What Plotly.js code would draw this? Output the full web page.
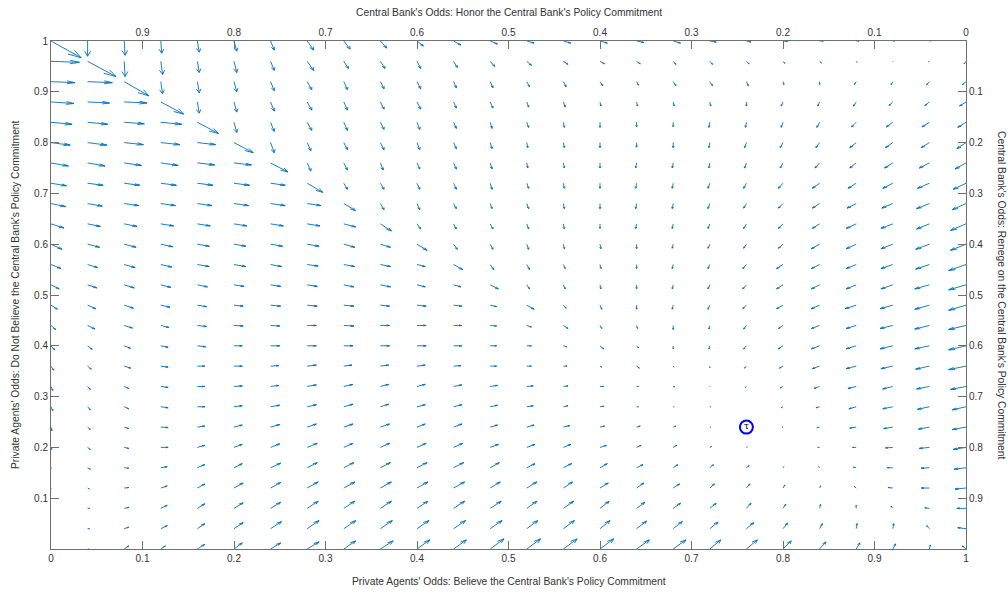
<!DOCTYPE html>
<html><head><meta charset="utf-8">
<script src="https://cdn.plot.ly/plotly-3.0.1.min.js"></script>
<style>html,body{margin:0;padding:0;background:#fff}#chart{width:1008px;height:593px}</style>
</head><body><div id="chart"></div>
<script>
// Grid of the vector field (x = private agents believe, y = do not believe)
const gridX = [0,0.04,0.08,0.12,0.16,0.2,0.24,0.28,0.32,0.36,0.4,0.44,0.48,0.52,0.56,0.6,0.64,0.68,0.72,0.76,0.8,0.84,0.88,0.92,0.96,1];
const gridY = [1,0.96,0.92,0.88,0.84,0.8,0.76,0.72,0.68,0.64,0.6,0.56,0.52,0.48,0.44,0.4,0.36,0.32,0.28,0.24,0.2,0.16,0.12,0.08,0.04,0];
// Drawn vector components, in thousandths of an axis unit; one row per gridY value
const VALUE_UNIT = 0.001;
const U = [
 [33,0,1,1,2,3,4,7,7,7,7,8,8,8,8,8,8,8,7,5,5,4,3,2,1,0],
 [31,31,1,2,2,3,4,7,5,5,4,4,5,5,5,5,4,3,3,3,2,2,1,0,-1,-2],
 [26,27,27,2,2,3,4,5,4,4,4,3,3,3,3,3,2,3,3,2,1,0,-2,-2,-3,-4],
 [25,24,25,25,2,3,4,5,4,4,4,3,3,2,2,1,1,1,1,0,-2,-2,-3,-4,-5,-7],
 [23,22,22,23,23,3,4,5,4,4,3,3,2,2,1,0,0,0,-1,-1,-2,-3,-5,-7,-8,-9],
 [21,21,21,21,20,21,4,4,4,4,3,3,2,1,1,0,0,0,-1,-2,-3,-4,-7,-8,-9,-10],
 [19,19,19,19,19,19,19,4,4,3,3,3,2,1,1,0,-1,-1,-1,-2,-3,-5,-7,-9,-11,-12],
 [17,17,17,17,17,17,16,17,4,4,3,3,2,2,1,0,-1,-1,-2,-3,-5,-8,-9,-11,-13,-14],
 [16,16,16,16,16,16,16,15,13,4,3,3,2,2,1,0,-1,-1,-2,-3,-5,-8,-10,-12,-14,-15],
 [14,14,14,14,14,14,14,14,13,12,4,3,3,2,1,0,-1,-1,-2,-3,-5,-8,-11,-13,-14,-17],
 [12,13,13,13,13,13,13,13,12,11,11,4,3,2,1,1,0,-1,-2,-3,-5,-9,-11,-13,-15,-17],
 [11,11,12,12,13,13,12,12,12,11,9,10,4,3,2,1,0,-1,-2,-4,-7,-9,-11,-13,-15,-19],
 [9,10,11,11,11,11,11,11,11,11,9,8,9,3,2,1,0,-1,-2,-4,-7,-9,-11,-13,-16,-19],
 [7,9,10,10,10,10,11,11,11,10,10,9,7,8,3,2,0,-1,-2,-4,-7,-9,-12,-14,-16,-19],
 [5,8,9,9,10,10,10,10,11,10,10,9,7,5,5,2,1,0,-1,-3,-5,-9,-11,-14,-16,-19],
 [4,5,7,8,9,9,10,10,10,10,10,9,7,5,4,4,2,0,-1,-3,-5,-9,-11,-14,-16,-19],
 [3,4,7,8,8,9,9,10,9,9,9,8,7,5,4,2,3,1,0,-2,-4,-8,-11,-13,-15,-19],
 [2,3,5,8,8,9,9,10,10,9,9,9,8,7,5,4,2,2,0,-1,-3,-6,-9,-11,-14,-17],
 [2,3,5,8,8,9,10,10,10,9,9,9,8,7,5,4,2,1,1,0,-2,-4,-8,-11,-13,-15],
 [1,3,5,8,8,9,10,10,10,10,9,9,8,8,7,5,4,3,1,0,-1,-3,-7,-10,-12,-15],
 [1,3,5,8,8,9,10,11,10,10,10,10,9,9,8,7,5,4,2,1,0,-2,-4,-8,-11,-14],
 [0,3,5,7,8,9,11,11,11,11,11,11,10,9,9,8,7,5,4,3,1,-1,-3,-6,-9,-13],
 [0,2,5,7,8,10,11,12,12,12,12,12,11,11,10,9,8,7,5,4,2,1,-2,-5,-9,-12],
 [0,2,5,7,8,10,11,12,12,12,12,12,12,11,11,10,9,8,7,5,3,1,0,-2,-5,-10],
 [0,2,5,7,8,10,12,13,13,13,13,13,13,12,12,11,11,10,9,8,5,3,1,1,-3,-9],
 [0,1,5,5,8,9,11,13,13,14,14,14,15,15,15,15,14,14,12,12,9,7,4,3,1,-4]
];
const V = [
 [-33,-30,-28,-24,-22,-20,-18,-18,-16,-14,-10,-8,-6,-4,-4,-4,-3,-4,-2,-2,-1,0,0,0,0,0],
 [-2,-30,-30,-26,-22,-22,-18,-18,-14,-14,-14,-12,-10,-8,-6,-5,-5,-6,-6,-5,-4,-3,-2,-1,-1,-5],
 [-2,-2,-28,-24,-22,-20,-18,-16,-16,-14,-14,-12,-12,-10,-10,-8,-7,-8,-8,-8,-6,-6,-6,-6,-6,-6],
 [-3,-2,-2,-24,-22,-20,-18,-16,-16,-14,-14,-12,-12,-10,-10,-8,-8,-8,-8,-8,-8,-8,-8,-7,-7,-8],
 [-4,-4,-3,-4,-22,-20,-18,-16,-16,-14,-14,-12,-12,-10,-10,-10,-9,-9,-10,-10,-10,-10,-9,-9,-9,-10],
 [-5,-5,-4,-4,-4,-20,-20,-16,-14,-14,-14,-12,-12,-10,-10,-10,-9,-10,-10,-10,-10,-10,-10,-10,-10,-12],
 [-6,-6,-5,-5,-4,-4,-18,-16,-14,-14,-12,-12,-12,-10,-10,-10,-10,-10,-10,-10,-10,-10,-10,-10,-10,-12],
 [-5,-4,-4,-4,-4,-4,-4,-18,-12,-12,-12,-12,-12,-10,-10,-10,-10,-10,-10,-10,-10,-10,-10,-10,-10,-12],
 [-6,-5,-4,-4,-4,-4,-4,-4,-14,-12,-12,-10,-10,-10,-10,-10,-10,-10,-10,-9,-9,-9,-9,-9,-10,-12],
 [-8,-5,-5,-4,-4,-4,-4,-4,-6,-14,-10,-10,-10,-10,-10,-9,-9,-9,-9,-9,-9,-9,-9,-9,-10,-13],
 [-10,-6,-6,-5,-4,-4,-4,-4,-6,-6,-12,-10,-10,-10,-9,-9,-9,-8,-8,-8,-8,-9,-9,-9,-10,-12],
 [-8,-6,-6,-5,-4,-4,-4,-3,-4,-4,-4,-10,-10,-10,-8,-8,-8,-8,-8,-8,-8,-8,-8,-8,-9,-12],
 [-8,-6,-6,-5,-4,-3,-3,-3,-4,-4,-4,-4,-8,-8,-8,-8,-8,-8,-8,-8,-8,-8,-8,-8,-8,-10],
 [-8,-7,-6,-4,-3,-2,-2,-2,-2,-2,-2,-2,-3,-8,-6,-8,-8,-8,-8,-7,-7,-7,-7,-7,-8,-10],
 [-8,-7,-5,-4,-2,-1,-1,0,-1,0,0,0,-1,-3,-6,-6,-6,-8,-7,-7,-6,-6,-6,-6,-7,-8],
 [-8,-7,-5,-3,-2,0,0,0,0,0,0,0,0,0,-2,-6,-4,-6,-6,-6,-6,-6,-6,-6,-6,-8],
 [-8,-6,-4,-2,0,0,1,2,2,2,2,1,0,0,0,-2,-4,-2,-3,-4,-4,-5,-5,-5,-6,-7],
 [-8,-6,-4,-2,0,1,2,3,4,4,4,3,2,1,1,0,0,-1,-1,-2,-3,-4,-4,-5,-5,-6],
 [-8,-6,-4,-2,0,2,3,4,5,5,4,4,3,2,2,1,0,0,0,0,-2,-2,-4,-4,-5,-6],
 [-7,-5,-3,-1,2,4,5,6,6,6,6,6,4,4,3,2,2,2,0,0,0,-1,-2,-3,-4,-5],
 [-4,-4,-2,0,4,6,7,8,8,8,8,8,6,6,6,4,4,4,2,1,0,0,0,-1,-2,-4],
 [-2,-3,-1,2,6,8,9,10,10,10,10,10,10,8,8,8,6,6,6,4,2,2,1,0,-1,-3],
 [-1,-2,1,4,8,10,11,12,12,12,12,12,12,12,12,10,10,8,8,8,6,4,3,1,0,-2],
 [0,0,2,6,9,11,12,14,14,14,14,14,14,14,14,14,12,10,10,10,8,8,6,4,1,0],
 [0,0,3,6,10,12,14,16,16,16,16,16,16,16,16,16,15,14,13,12,11,10,10,10,6,2],
 [0,0,6,6,9,12,12,14,16,16,18,18,20,20,20,20,18,18,18,18,16,14,12,10,8,6]
];
// Marked equilibrium
const eqX = [0.76];
const eqY = [0.24];
const eqLabel = ['τ'];
// Axis ticks
const bottomTickVals = [0,0.1,0.2,0.3,0.4,0.5,0.6,0.7,0.8,0.9,1];
const bottomTickText = ['0','0.1','0.2','0.3','0.4','0.5','0.6','0.7','0.8','0.9','1'];
const leftTickVals = [0.1,0.2,0.3,0.4,0.5,0.6,0.7,0.8,0.9,1];
const leftTickText = ['0.1','0.2','0.3','0.4','0.5','0.6','0.7','0.8','0.9','1'];
const topTickVals = [0,0.1,0.2,0.3,0.4,0.5,0.6,0.7,0.8,0.9];
const topTickText = ['0','0.1','0.2','0.3','0.4','0.5','0.6','0.7','0.8','0.9'];
const rightTickVals = [0.1,0.2,0.3,0.4,0.5,0.6,0.7,0.8,0.9];
const rightTickText = ['0.1','0.2','0.3','0.4','0.5','0.6','0.7','0.8','0.9'];
const titleBottom = "Private Agents' Odds: Believe the Central Bank's Policy Commitment";
const titleLeft = "Private Agents' Odds: Do Not Believe the Central Bank's Policy Commitment";
const titleTop = "Central Bank's Odds: Honor the Central Bank's Policy Commitment";
const titleRight = "Central Bank's Odds: Renege on the Central Bank's Policy Commitment";

// Build quiver shafts and heads (MATLAB-style heads, alpha = beta = 0.33)
const HEAD_A = 0.33, HEAD_B = 0.33;
const sx = [], sy = [];
for (let r = 0; r < gridY.length; r++) {
  for (let c = 0; c < gridX.length; c++) {
    const x = gridX[c], y = gridY[r];
    const u = U[r][c] * VALUE_UNIT, v = V[r][c] * VALUE_UNIT;
    if (u === 0 && v === 0) continue;
    const tx = x + u, ty = y + v;
    sx.push(x, tx, null); sy.push(y, ty, null);
    sx.push(tx - HEAD_A * (u + HEAD_B * v), tx, tx - HEAD_A * (u - HEAD_B * v), null);
    sy.push(ty - HEAD_A * (v - HEAD_B * u), ty, ty - HEAD_A * (v + HEAD_B * u), null);
  }
}

const AX = '#707070', TXT = '#333333';
const FONT = 'Liberation Sans, Arial, sans-serif';
const baseAxis = {
  showgrid: false, zeroline: false, showline: true, linecolor: AX, linewidth: 1,
  ticks: 'inside', ticklen: 8, tickwidth: 1, tickcolor: AX, fixedrange: true,
  tickfont: {family: FONT, size: 10, color: TXT}, tickmode: 'array'
};

const traces = [
  {type: 'scatter', mode: 'lines', x: sx, y: sy, line: {color: '#0072BD', width: 0.9}, hoverinfo: 'skip', connectgaps: false},
  {type: 'scatter', mode: 'markers+text', x: eqX, y: eqY, text: eqLabel, textposition: 'middle center',
   textfont: {family: 'DejaVu Serif, serif', size: 9, color: '#000'},
   marker: {symbol: 'circle-open', size: 13, color: '#0000FF', line: {width: 2, color: '#0000FF'}}, hoverinfo: 'skip', cliponaxis: false},
  {type: 'scatter', mode: 'markers', x: [0.5], y: [0.5], xaxis: 'x2', yaxis: 'y', marker: {opacity: 0}, hoverinfo: 'skip'},
  {type: 'scatter', mode: 'markers', x: [0.5], y: [0.5], xaxis: 'x', yaxis: 'y2', marker: {opacity: 0}, hoverinfo: 'skip'}
];

const TITLE_FONT = {family: FONT, size: 10.3, color: TXT};
const layout = {
  width: 1008, height: 593,
  margin: {l: 51, r: 42, t: 41, b: 44, pad: 0},
  paper_bgcolor: '#ffffff', plot_bgcolor: '#ffffff',
  showlegend: false,
  font: {family: FONT, size: 10, color: TXT},
  xaxis: Object.assign({}, baseAxis, {range: [0, 1], tickvals: bottomTickVals, ticktext: bottomTickText}),
  yaxis: Object.assign({}, baseAxis, {range: [0, 1], tickvals: leftTickVals, ticktext: leftTickText}),
  xaxis2: Object.assign({}, baseAxis, {range: [1, 0], overlaying: 'x', side: 'top', anchor: 'y', tickvals: topTickVals, ticktext: topTickText}),
  yaxis2: Object.assign({}, baseAxis, {range: [1, 0], overlaying: 'y', side: 'right', anchor: 'x', tickvals: rightTickVals, ticktext: rightTickText}),
  annotations: [
    {text: titleBottom, xref: 'paper', yref: 'paper', x: 0.5, y: 0, yshift: -32, showarrow: false, xanchor: 'center', yanchor: 'middle', font: TITLE_FONT},
    {text: titleTop, xref: 'paper', yref: 'paper', x: 0.5, y: 1, yshift: 29, showarrow: false, xanchor: 'center', yanchor: 'middle', font: TITLE_FONT},
    {text: titleLeft, xref: 'paper', yref: 'paper', x: 0, y: 0.5, xshift: -36, textangle: -90, showarrow: false, xanchor: 'center', yanchor: 'middle', font: TITLE_FONT},
    {text: titleRight, xref: 'paper', yref: 'paper', x: 1, y: 0.5, xshift: 36, textangle: 90, showarrow: false, xanchor: 'center', yanchor: 'middle', font: TITLE_FONT}
  ]
};

Plotly.newPlot('chart', traces, layout, {staticPlot: true, displayModeBar: false});
</script>
</body></html>
